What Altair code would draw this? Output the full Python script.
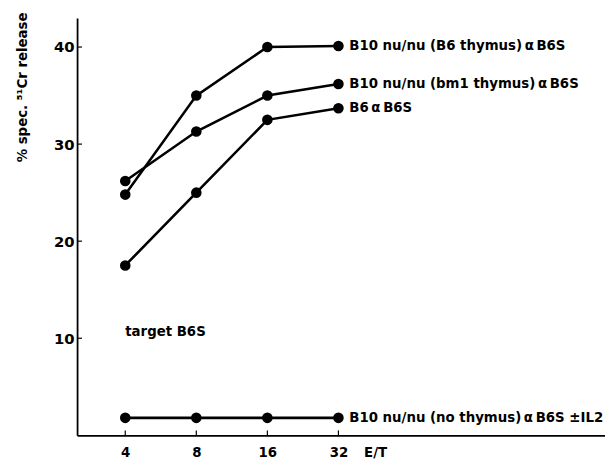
import altair as alt
import pandas as pd

et = [4, 8, 16, 32]
s_b6thy = [24.8, 35.0, 40.0, 40.1]
s_bm1 = [26.2, 31.3, 35.0, 36.2]
s_b6 = [17.5, 25.0, 32.5, 33.7]
s_none = [1.8, 1.8, 1.8, 1.8]
series_names = [
    "B10 nu/nu (B6 thymus)\u2009\u03b1\u2009B6S",
    "B10 nu/nu (bm1 thymus)\u2009\u03b1\u2009B6S",
    "B6\u2009\u03b1\u2009B6S",
    "B10 nu/nu (no thymus)\u2009\u03b1\u2009B6S \u00b1IL2",
]
y_ticks = [10, 20, 30, 40]
x_ticks = [4, 8, 16, 32]
ann_text = ["target B6S"]
ann_et = [4]
ann_val = [10.6]

rows = []
for name, vals in zip(series_names, [s_b6thy, s_bm1, s_b6, s_none]):
    for e, v in zip(et, vals):
        rows.append({"series": name, "et": e, "val": v})
df = pd.DataFrame(rows)

FONT = "DejaVu Sans"
W, H = 535, 423
xs = alt.Scale(type="log", base=2, domain=[2.5, 431], nice=False)
ys = alt.Scale(domain=[0, 43], nice=False, zero=False)

xaxis = alt.Axis(values=x_ticks, ticks=False, grid=False, domainColor="black",
                 domainWidth=1.8, labelFont=FONT, labelFontSize=13.5,
                 labelFontWeight="bold", labelColor="black", labelPadding=10,
                 title="E/T", titleFont=FONT, titleFontSize=13.5, titleFontWeight="bold",
                 titleColor="black", titleX=302, titleY=17, titleBaseline="middle")
yaxis = alt.Axis(values=y_ticks, ticks=False, grid=False, domainColor="black",
                 domainWidth=1.8, labelFont=FONT, labelFontSize=15,
                 labelFontWeight="bold", labelColor="black", labelPadding=3,
                 title="% spec. \u2075\u00b9Cr release", titleFont=FONT, titleFontSize=13.5,
                 titleFontWeight="bold", titleColor="black", titleAngle=-90,
                 titleX=-55, titleY=-6, titleAlign="right", titleBaseline="middle")

base = alt.Chart(df)
lines = base.mark_line(color="black", strokeWidth=2.6).encode(
    x=alt.X("et:Q", scale=xs, axis=xaxis),
    y=alt.Y("val:Q", scale=ys, axis=yaxis),
    detail="series:N",
)
points = base.mark_circle(color="black", size=115, opacity=1).encode(
    x=alt.X("et:Q", scale=xs), y=alt.Y("val:Q", scale=ys)
)
labels = base.transform_filter(alt.datum.et == 32).mark_text(
    align="left", baseline="middle", dx=11, font=FONT, fontSize=13.5,
    fontWeight="bold", color="black"
).encode(x=alt.X("et:Q", scale=xs), y=alt.Y("val:Q", scale=ys), text="series:N")

ann = alt.Chart(pd.DataFrame({"t": ann_text, "et": ann_et, "v": ann_val})).mark_text(
    align="left", baseline="middle", font=FONT, fontSize=13.5, fontWeight="bold", color="black"
).encode(x=alt.X("et:Q", scale=xs), y=alt.Y("v:Q", scale=ys), text="t:N")

ytick = alt.Chart(pd.DataFrame({"v": y_ticks})).mark_rule(color="black", strokeWidth=1.2).encode(
    y=alt.Y("v:Q", scale=ys), x=alt.value(0), x2=alt.value(5)
)
xtick = alt.Chart(pd.DataFrame({"e": x_ticks})).mark_rule(color="black", strokeWidth=1.2).encode(
    x=alt.X("e:Q", scale=xs), y=alt.value(H - 5), y2=alt.value(H)
)

chart = alt.layer(lines, points, labels, ann, ytick, xtick).properties(
    width=W, height=H,
    padding={"left": 70, "top": 7, "right": 0, "bottom": 25},
    autosize=alt.AutoSizeParams(type="none"),
    background="white",
).configure_view(stroke=None)

chart.save("out.html", embed_options={"renderer": "svg", "actions": False})
